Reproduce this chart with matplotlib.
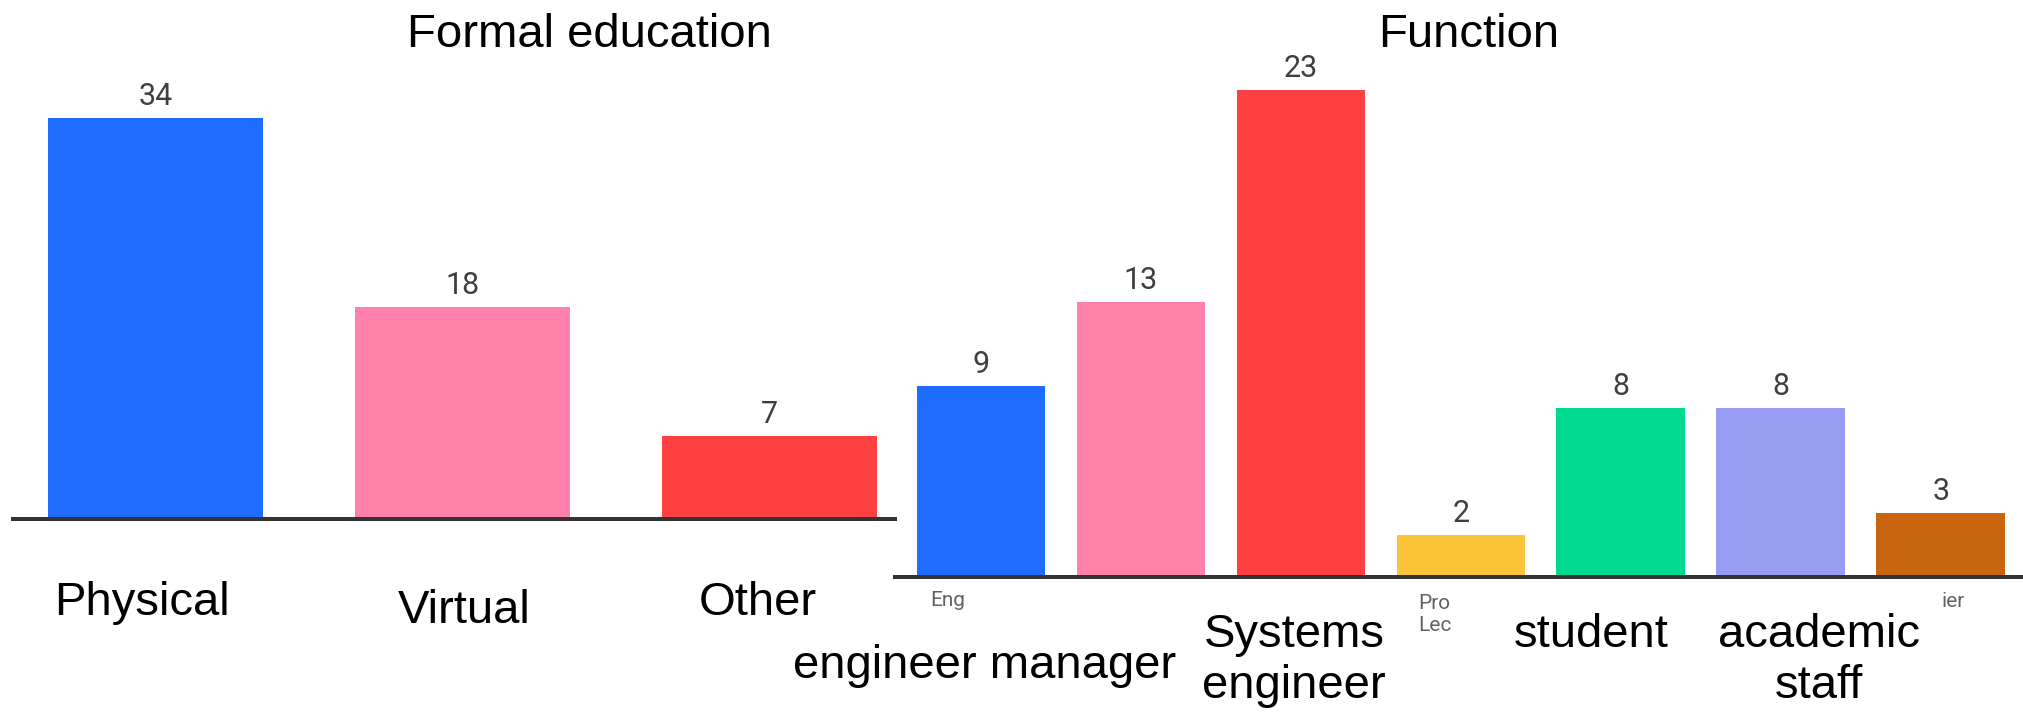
import matplotlib
matplotlib.use("Agg")
import matplotlib.pyplot as plt

# ---- data ---------------------------------------------------------------
edu_counts = [34, 18, 7]
edu_colors = ["#1d6bff", "#ff80a9", "#ff4040"]
edu_labels = ["Physical", "Virtual", "Other"]

func_counts = [9, 13, 23, 2, 8, 8, 3]
func_colors = ["#1d6bff", "#ff80a9", "#ff4040", "#fcc43a",
               "#00d990", "#979bf2", "#c9650f"]
func_labels = ["engineer manager", "Systems\nengineer", "student", "academic\nstaff"]
func_small_labels = ["Eng", "Pro\nLec", "ier"]

titles = ["Formal education", "Function"]

# ---- layout (pixels) ------------------------------------------------------
W, H, DPI = 2024, 717, 100
fig = plt.figure(figsize=(W / DPI, H / DPI), dpi=DPI)
fig.patch.set_facecolor("white")

BIG = dict(family=["Liberation Sans", "DejaVu Sans"], fontsize=34, color="black")
VAL = dict(family=["Roboto", "DejaVu Sans"], fontsize=22, color="#3c4043")
SMALL = dict(family=["Roboto", "DejaVu Sans"], fontsize=15, color="#5f6368")


def add_px_axes(x0, x1, base_y, top_y):
    return fig.add_axes([x0 / W, 1 - base_y / H, (x1 - x0) / W, (base_y - top_y) / H])


def text_px(x, y, s, style, ha="center", line_gap=None):
    lines = s.split("\n")
    for i, line in enumerate(lines):
        fig.text(x / W, 1 - (y + i * (line_gap or 0)) / H, line,
                 ha=ha, va="baseline", **style)


def bar_panel(ax, counts, colors, width, xlim, px_per_unit, base_y, top_y):
    xs = range(len(counts))
    ax.bar(xs, counts, width=width, color=colors, zorder=2)
    ax.set_xlim(*xlim)
    ax.set_ylim(0, (base_y - top_y) / px_per_unit)
    for x, v in zip(xs, counts):
        ax.annotate(str(v), (x, v), xytext=(0, 13 * 72 / DPI),
                    textcoords="offset points", ha="center", va="baseline", **VAL)
    ax.axhline(0, color="#333333", lw=4 * 72 / DPI, zorder=3, clip_on=False)
    ax.axis("off")


# left panel: formal education
axL = add_px_axes(13, 895, 519, 60)
bar_panel(axL, edu_counts, edu_colors, 0.70, (-0.464, 2.409), 11.79, 519, 60)

# right panel: function
axR = add_px_axes(895, 2024, 577, 40)
bar_panel(axR, func_counts, func_colors, 0.806, (-0.5375, 6.519), 21.17, 577, 40)

# titles
text_px(589, 47, titles[0], BIG)
text_px(1469, 47, titles[1], BIG)

# category labels, left
for x, y, s in zip([142, 464, 758], [615, 623, 615], edu_labels):
    text_px(x, y, s, BIG)

# partly hidden small tick labels, right
for x, y, s in zip([930, 1418, 1942], [606, 609, 607], func_small_labels):
    text_px(x, y, s, SMALL, ha="left", line_gap=22)

# category labels, right
for x, y, s in zip([985, 1294, 1591, 1819], [678, 647, 647, 647], func_labels):
    text_px(x, y, s, BIG, line_gap=51)

fig.savefig("out.png", dpi=DPI, facecolor="white")
